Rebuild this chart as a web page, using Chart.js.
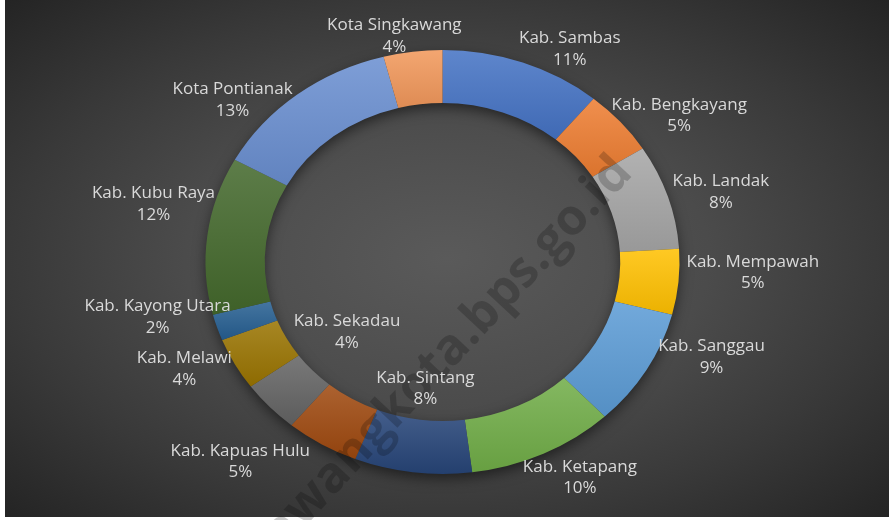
<!DOCTYPE html>
<html>
<head>
<meta charset="utf-8">
<title>Doughnut - Kalimantan Barat</title>
<script src="https://cdn.jsdelivr.net/npm/chart.js@4.4.1/dist/chart.umd.min.js"></script>
<style>
    html, body { margin: 0; padding: 0; background: #ffffff; }
    #backdrop {
        position: absolute; left: 5px; top: 0; width: 884px; height: 517px;
        background: radial-gradient(ellipse farthest-corner at 50% 50%, #5a5a5a 0%, #4b4b4b 42%, #393939 70%, #242424 100%);
    }
    #donut { position: absolute; left: 0; top: 0; }
</style>
</head>
<body>
<div id="backdrop"></div>
<canvas id="donut" width="894" height="520"></canvas>
<script>
// Regions (clockwise from 12 o'clock) and their share in percent
const regions = [
    'Kab. Sambas', 'Kab. Bengkayang', 'Kab. Landak', 'Kab. Mempawah',
    'Kab. Sanggau', 'Kab. Ketapang', 'Kab. Sintang', 'Kab. Kapuas Hulu',
    'Kab. Sekadau', 'Kab. Melawi', 'Kab. Kayong Utara', 'Kab. Kubu Raya',
    'Kota Pontianak', 'Kota Singkawang'
];
const shares = [11, 5, 8, 5, 9, 10, 8, 5, 4, 4, 2, 12, 13, 4];

// Office palette
const sliceColors = [
    '#4472C4', '#ED7D31', '#A5A5A5', '#FFC000', '#5B9BD5', '#70AD47', '#264478',
    '#9E480E', '#636363', '#997300', '#255E91', '#43682B', '#698ED0', '#F1975A'
];

// Where each data label sits: [radius as fraction of outer radius, angle nudge in degrees]
const labelSpots = [
    [1.14, 8.3], [1.215, 6.7], [1.22, 2.3], [1.31, -3.3], [1.22, -9.1], [1.17, -4.5], [0.60, -0.3],
    [1.27, 11.6], [0.52, 4.0], [1.20, 4.0], [1.23, 5.8], [1.25, 5.5], [1.17, -11.4], [1.085, -3.6]
];

// the original picture is wider than tall, so the ring is an ellipse
const STRETCH = 1.118;
const LABEL_FONT = '17px "Open Sans", "Noto Sans", sans-serif';

function mix(hex, target, amount) {
    const n = parseInt(hex.slice(1), 16);
    const r = (n >> 16) & 255, g = (n >> 8) & 255, b = n & 255;
    const m = c => Math.round(c + (target - c) * amount);
    return `rgb(${m(r)}, ${m(g)}, ${m(b)})`;
}

const ellipseRing = {
    id: 'ellipseRing',
    beforeDatasetsDraw(chart) {
        const ctx = chart.ctx;
        const arcs = chart.getDatasetMeta(0).data;
        if (!arcs.length) return;
        const cx = arcs[0].x, cy = arcs[0].y;
        const outer = arcs[0].outerRadius, inner = arcs[0].innerRadius;

        ctx.save();
        ctx.translate(cx, cy);
        ctx.scale(STRETCH, 1);
        ctx.translate(-cx, -cy);

        // soft shadow under the ring
        ctx.save();
        ctx.shadowColor = 'rgba(0, 0, 0, 0.55)';
        ctx.shadowBlur = 14;
        ctx.shadowOffsetY = 5;
        ctx.beginPath();
        ctx.arc(cx, cy, outer - 1, 0, Math.PI * 2);
        ctx.arc(cx, cy, inner + 1, 0, Math.PI * 2, true);
        ctx.fillStyle = '#3a3a3a';
        ctx.fill();
        ctx.restore();

        // vertical light-to-dark gradient across each slice
        arcs.forEach((arc, i) => {
            let top = Infinity, bottom = -Infinity;
            for (let k = 0; k <= 24; k++) {
                const a = arc.startAngle + (arc.endAngle - arc.startAngle) * k / 24;
                [arc.innerRadius, arc.outerRadius].forEach(r => {
                    const y = arc.y + r * Math.sin(a);
                    top = Math.min(top, y);
                    bottom = Math.max(bottom, y);
                });
            }
            const grad = ctx.createLinearGradient(0, top, 0, bottom + 1);
            grad.addColorStop(0, mix(sliceColors[i], 255, 0.14));
            grad.addColorStop(1, mix(sliceColors[i], 0, 0.08));
            arc.options = Object.assign({}, arc.options, { backgroundColor: grad });
        });
    },
    afterDatasetsDraw(chart) {
        const ctx = chart.ctx;
        ctx.restore();

        const arcs = chart.getDatasetMeta(0).data;
        const total = shares.reduce((s, v) => s + v, 0);

        // watermark
        ctx.save();
        ctx.translate(634, 174);
        ctx.rotate(-47 * Math.PI / 180);
        ctx.font = 'bold 50px "Open Sans", "Noto Sans", sans-serif';
        ctx.fillStyle = 'rgba(0, 0, 0, 0.2)';
        ctx.textAlign = 'right';
        ctx.textBaseline = 'alphabetic';
        ctx.fillText('singkawangkota.bps.go.id', 0, 0);
        ctx.restore();

        // data labels
        ctx.save();
        ctx.font = LABEL_FONT;
        ctx.fillStyle = '#d9d9d9';
        ctx.textAlign = 'center';
        ctx.textBaseline = 'middle';
        arcs.forEach((arc, i) => {
            const spot = labelSpots[i];
            const mid = (arc.startAngle + arc.endAngle) / 2 + spot[1] * Math.PI / 180;
            const r = arc.outerRadius * spot[0];
            const x = arc.x + r * STRETCH * Math.cos(mid);
            const y = arc.y + r * Math.sin(mid);
            ctx.fillText(regions[i], x, y - 10.5);
            ctx.fillText(Math.round(shares[i] / total * 100) + '%', x, y + 11);
        });
        ctx.restore();
    }
};

const donutChart = new Chart(document.getElementById('donut'), {
    type: 'doughnut',
    data: {
        labels: regions,
        datasets: [{
            data: shares,
            backgroundColor: sliceColors,
            borderWidth: 0
        }]
    },
    options: {
        responsive: false,
        animation: false,
        cutout: '75%',
        layout: {
            padding: { top: 50, bottom: 46, left: 0, right: 9 }
        },
        plugins: {
            legend: { display: false },
            tooltip: { enabled: false }
        },
        events: []
    },
    plugins: [ellipseRing]
});
</script>
</body>
</html>
